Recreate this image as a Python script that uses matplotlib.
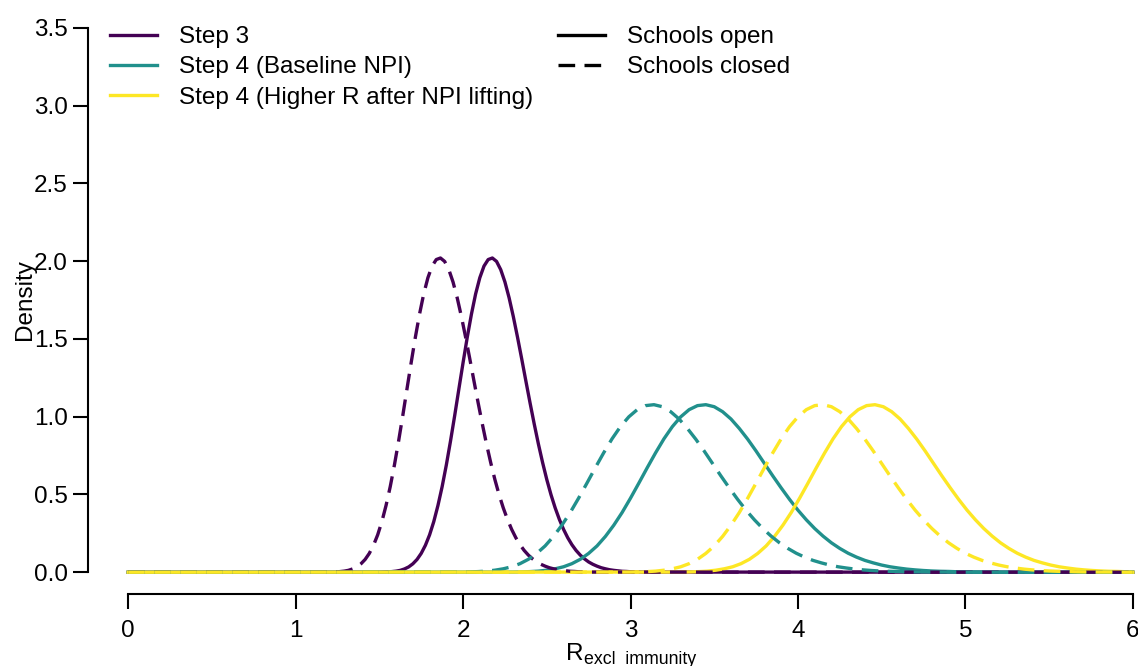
import numpy as np
import matplotlib
matplotlib.use("Agg")
import matplotlib.pyplot as plt

plt.rcParams['font.family'] = ['Liberation Sans', 'DejaVu Sans']

# density, Step 3 shape, every 0.025 from its left foot
step3_density = [0.000, 0.001, 0.002, 0.004, 0.007, 0.012, 0.021, 0.034, 0.054, 0.082,
                 0.121, 0.173, 0.240, 0.325, 0.429, 0.550, 0.689, 0.843, 1.007, 1.178,
                 1.347, 1.510, 1.659, 1.789, 1.893, 1.968, 2.010, 2.020, 1.998, 1.945,
                 1.866, 1.764, 1.644, 1.512, 1.373, 1.230, 1.089, 0.953, 0.824, 0.705,
                 0.596, 0.499, 0.414, 0.340, 0.276, 0.222, 0.177, 0.140, 0.110, 0.086,
                 0.066, 0.051, 0.039, 0.029, 0.022, 0.016, 0.012, 0.009, 0.006, 0.005,
                 0.003, 0.002, 0.002, 0.001, 0.001]
# Step 4 shape, every 0.05 from its left foot
step4_density = [0.001, 0.002, 0.004, 0.007, 0.013, 0.022, 0.035, 0.055, 0.083, 0.121,
                 0.169, 0.230, 0.302, 0.384, 0.476, 0.573, 0.672, 0.768, 0.858, 0.936,
                 0.999, 1.045, 1.071, 1.077, 1.064, 1.032, 0.985, 0.924, 0.855, 0.779,
                 0.699, 0.619, 0.542, 0.468, 0.399, 0.337, 0.281, 0.232, 0.189, 0.153,
                 0.122, 0.097, 0.076, 0.060, 0.046, 0.035, 0.027, 0.020, 0.015, 0.011,
                 0.008, 0.006, 0.005, 0.003, 0.002, 0.002, 0.001, 0.001, 0.001, 0.000,
                 0.000]

# where each curve starts (left foot) and its grid step
scenarios = ['Step 3', 'Step 4 (Baseline NPI)', 'Step 4 (Higher R after NPI lifting)']
start_open = [1.50, 2.30, 3.31]
start_closed = [1.19, 1.99, 3.00]
grid_step = [0.025, 0.05, 0.05]
densities = [step3_density, step4_density, step4_density]
colors = ['#440154', '#21908C', '#FDE725']

x_min, x_max = 0, 6

def curve(start, step, dens):
    x = start + step * np.arange(len(dens))
    y = np.array(dens)
    keep = x <= x_max
    x = np.concatenate([[x_min], x[keep], [x_max]])
    y = np.concatenate([[0], y[keep], [0]])
    return x, y

fs = 17.5
fig = plt.figure(figsize=(11.38, 6.66), dpi=100)
ax = fig.add_axes([88 / 1138, 72 / 666, 1085 / 1138, 588 / 666])

lw = 2.4
dash = (5, 2.8)
for i in range(3):
    x, y = curve(start_open[i], grid_step[i], densities[i])
    ax.plot(x, y, color=colors[i], lw=lw)
for i in range(3):
    x, y = curve(start_closed[i], grid_step[i], densities[i])
    ax.plot(x, y, color=colors[i], lw=lw, dashes=dash)

ax.set_xlim(-0.24, 6.24)
ax.set_ylim(-0.14, 3.64)
yt = np.arange(0, 3.51, 0.5)
ax.set_xticks(np.arange(0, 7, 1))
ax.set_yticks(yt)
ax.set_yticklabels(['%.1f' % v for v in yt])

for side in ['top', 'right']:
    ax.spines[side].set_visible(False)
ax.spines['left'].set_bounds(0, 3.5)
ax.spines['bottom'].set_bounds(0, 6)
for side in ['left', 'bottom']:
    ax.spines[side].set_linewidth(1.5)
ax.tick_params(axis='both', length=10.5, width=1.5, labelsize=fs)
ax.tick_params(axis='y', pad=4)
ax.tick_params(axis='x', pad=8.5)
ax.patch.set_visible(False)

fig.text(25 / 1138, 1 - 300 / 666, 'Density', rotation=90, ha='center',
         va='center', fontsize=fs)
# R with subscript, as in the original axis title
fig.text(583 / 1138, 6 / 666, 'R', ha='right', va='baseline', fontsize=fs)
fig.text(584 / 1138, 2 / 666, 'excl  immunity', ha='left', va='baseline',
         fontsize=12.8)

h1 = [plt.Line2D([], [], color=c, lw=lw) for c in colors]
fig.legend(h1, scenarios, loc='upper left',
           bbox_to_anchor=(110 / 1138, 1 - 26 / 666), frameon=False,
           borderpad=0, borderaxespad=0, handlelength=1.95,
           handletextpad=0.88, labelspacing=0.34, fontsize=fs)
h2 = [plt.Line2D([], [], color='black', lw=lw),
      plt.Line2D([], [], color='black', lw=lw, dashes=dash)]
fig.legend(h2, ['Schools open', 'Schools closed'], loc='upper left',
           bbox_to_anchor=(558 / 1138, 1 - 26 / 666), frameon=False,
           borderpad=0, borderaxespad=0, handlelength=1.95,
           handletextpad=0.9, labelspacing=0.34, fontsize=fs)

fig.savefig('out.png', dpi=100)
